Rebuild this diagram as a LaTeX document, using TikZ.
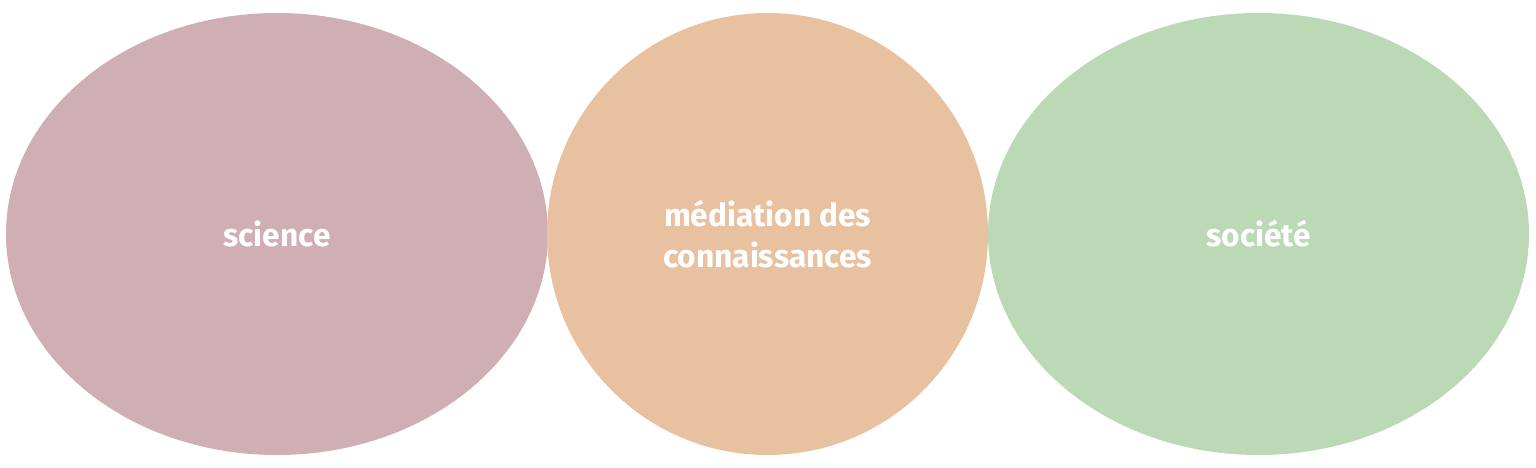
\documentclass[tikz,border=0pt]{standalone}
\usepackage{fontspec}
\setmainfont{Fira Sans}
\definecolor{sciencecol}{HTML}{CFAFB3}
\definecolor{mediationcol}{HTML}{E8C1A0}
\definecolor{societecol}{HTML}{BCD9B5}
\tikzset{
    blob/.style={ellipse,inner sep=0pt,text=white,align=center,
        font=\fontsize{22.5}{29.5}\selectfont\bfseries},
}
\usetikzlibrary{shapes.geometric}
\begin{document}
\begin{tikzpicture}[x=0.025cm,y=-0.025cm]
        \useasboundingbox (0,0) rectangle (1536,467);
        %% Circles
        \node[blob,fill=sciencecol,minimum width=542*0.025cm,minimum height=442*0.025cm] (S) at (277,234) {science};
        \node[blob,fill=mediationcol,minimum width=441*0.025cm,minimum height=442*0.025cm] (M) at (767.5,234) {médiation des\\connaissances};
        \node[blob,fill=societecol,minimum width=541*0.025cm,minimum height=442*0.025cm] (T) at (1258.5,234) {société};
    \end{tikzpicture}
\end{document}
